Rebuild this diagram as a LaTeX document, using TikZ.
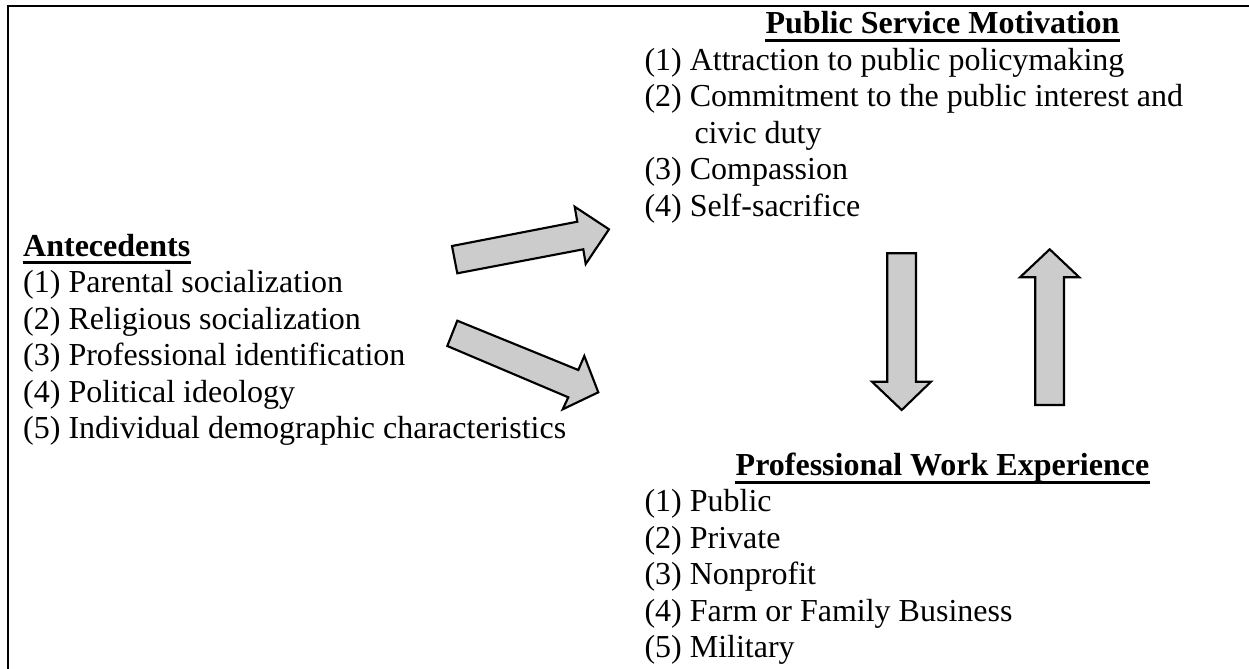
\documentclass[tikz,border=0pt]{standalone}
\usepackage{fontspec}
\setmainfont{Liberation Serif}
\begin{document}
\begin{tikzpicture}[x=0.375pt,y=-0.375pt,
  txt/.style={inner sep=0pt,anchor=base west,font=\fontsize{12pt}{13.7pt}\selectfont},
  head/.style={txt,font=\fontsize{12pt}{13.7pt}\selectfont\bfseries},
  uline/.style={line width=1pt},
  frame/.style={line width=0.8pt},
  blockarrow/.style={draw=black,fill=arrowgray,line width=0.8pt,line join=miter}]
\definecolor{arrowgray}{RGB}{204,204,204}
\useasboundingbox (0,0) rectangle (1249,669);

% outer frame (top and left edges)
\draw[frame] (8,669) -- (8,6) -- (1249,6);

% Antecedents
\node[head] (anth) at (22.7,256) {Antecedents};
\node[txt] (ant1) at (22.7,292.5) {(1) Parental socialization};
\node[txt] (ant2) at (22.7,329) {(2) Religious socialization};
\node[txt] (ant3) at (22.7,365.5) {(3) Professional identification};
\node[txt] (ant4) at (22.7,402) {(4) Political ideology};
\node[txt] (ant5) at (22.7,438.5) {(5) Individual demographic characteristics};
\draw[uline] ([yshift=-2.4pt]anth.base west) -- ([yshift=-2.4pt]anth.base east);

% Public Service Motivation
\node[head,anchor=base] (psmh) at (942.5,33) {Public Service Motivation};
\node[txt] (psm1) at (644,70) {(1) Attraction to public policymaking};
\node[txt] (psm2) at (644,106.5) {(2) Commitment to the public interest and};
\node[txt] (psm2b) at (694,143) {civic duty};
\node[txt] (psm3) at (644,179.5) {(3) Compassion};
\node[txt] (psm4) at (644,216) {(4) Self-sacrifice};
\draw[uline] ([yshift=-2.8pt]psmh.base west) -- ([yshift=-2.8pt]psmh.base east);

% Professional Work Experience
\node[head,anchor=base] (pweh) at (942.5,475) {Professional Work Experience};
\node[txt] (pwe1) at (644,511.5) {(1) Public};
\node[txt] (pwe2) at (644,548) {(2) Private};
\node[txt] (pwe3) at (644,584.5) {(3) Nonprofit};
\node[txt] (pwe4) at (644,621) {(4) Farm or Family Business};
\node[txt] (pwe5) at (644,657.5) {(5) Military};
\draw[uline] ([yshift=-2.8pt]pweh.base west) -- ([yshift=-2.8pt]pweh.base east);

% block arrows
\draw[blockarrow] (452,246) -- (577.3,221.7) -- (574.7,206.7) -- (609,229.3)
  -- (585.7,264) -- (583.3,249.3) -- (457.3,273.3) -- cycle;
\draw[blockarrow] (457.3,320.7) -- (578.3,370) -- (584.3,356) -- (598.3,392.3)
  -- (562.7,409.3) -- (568.3,397.3) -- (447.3,346) -- cycle;
\draw[blockarrow] (887.3,253.3) -- (916,253.3) -- (916,381.7) -- (931,381.7)
  -- (901.7,410) -- (872,381.7) -- (887.3,381.7) -- cycle;
\draw[blockarrow] (1035.3,405) -- (1064,405) -- (1064,277.3) -- (1079.3,277.3)
  -- (1049.7,249.3) -- (1020,277.3) -- (1035.3,277.3) -- cycle;
\end{tikzpicture}
\end{document}
